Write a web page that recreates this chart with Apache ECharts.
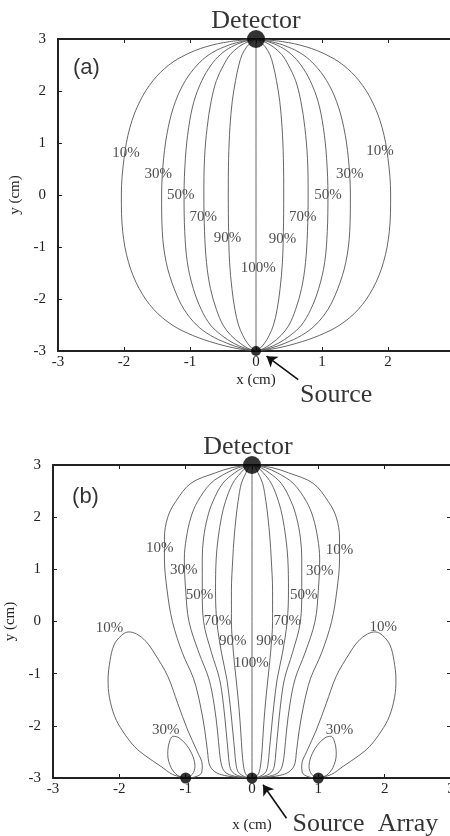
<!DOCTYPE html>
<html>
<head>
<meta charset="utf-8">
<script src="https://cdn.jsdelivr.net/npm/echarts@6/dist/echarts.min.js"></script>
<style>
  html, body { margin: 0; padding: 0; background: #fff; }
  #main { width: 450px; height: 836px; }
</style>
</head>
<body>
<div id="main"></div>
<script>
// panel (a): y samples shared by all contours, x = right half-width
const aY = [3, 2.95, 2.85, 2.7, 2.5, 2.2, 1.8, 1.3, 0.7, 0, -0.7, -1.3, -1.8, -2.2, -2.5, -2.7, -2.85, -2.95, -3]
const aX10 = [0, 0.40, 0.76, 1.06, 1.32, 1.56, 1.76, 1.91, 2.00, 2.04, 2.02, 1.93, 1.77, 1.55, 1.27, 0.96, 0.62, 0.30, 0]
const aX30 = [0, 0.23, 0.48, 0.71, 0.89, 1.07, 1.22, 1.33, 1.40, 1.43, 1.42, 1.36, 1.24, 1.09, 0.90, 0.69, 0.44, 0.21, 0]
const aX50 = [0, 0.18, 0.37, 0.54, 0.68, 0.82, 0.94, 1.02, 1.07, 1.09, 1.08, 1.04, 0.95, 0.83, 0.69, 0.52, 0.34, 0.16, 0]
const aX70 = [0, 0.12, 0.26, 0.39, 0.49, 0.60, 0.68, 0.74, 0.78, 0.79, 0.78, 0.75, 0.69, 0.60, 0.50, 0.38, 0.24, 0.12, 0]
const aX90 = [0, 0.06, 0.14, 0.21, 0.26, 0.31, 0.36, 0.395, 0.415, 0.42, 0.415, 0.40, 0.365, 0.32, 0.265, 0.20, 0.13, 0.06, 0]

// panel (b): main lobe
const bY = [3, 2.95, 2.85, 2.65, 2.3, 2.0, 1.6, 1.2, 0.6, 0, -0.6, -1.1, -1.6, -2.1, -2.5, -2.75, -2.88, -2.95, -2.99, -3]
const bX10 = [0, 0.30, 0.55, 0.92, 1.15, 1.27, 1.32, 1.32, 1.28, 1.20, 1.05, 0.88, 0.78, 0.71, 0.67, 0.64, 0.56, 0.42, 0.18, 0]
const bX30 = [0, 0.20, 0.38, 0.62, 0.82, 0.92, 0.99, 1.02, 1.00, 0.95, 0.80, 0.65, 0.57, 0.52, 0.49, 0.46, 0.41, 0.31, 0.13, 0]
const bX50 = [0, 0.13, 0.26, 0.44, 0.59, 0.67, 0.73, 0.75, 0.75, 0.73, 0.61, 0.49, 0.43, 0.39, 0.36, 0.34, 0.30, 0.22, 0.10, 0]
const bX70 = [0, 0.09, 0.17, 0.29, 0.40, 0.46, 0.51, 0.54, 0.55, 0.53, 0.46, 0.38, 0.33, 0.29, 0.26, 0.24, 0.21, 0.15, 0.07, 0]
const bX90 = [0, 0.05, 0.09, 0.16, 0.21, 0.24, 0.27, 0.29, 0.31, 0.31, 0.28, 0.24, 0.20, 0.17, 0.15, 0.13, 0.11, 0.08, 0.04, 0]

// panel (b): side lobes round the source at x = -1 (mirrored for x = +1)
const lobe10 = [[-1, -3], [-1.2, -2.93], [-1.37, -2.78], [-1.6, -2.58], [-1.77, -2.40], [-1.95, -2.1], [-2.07, -1.82],
  [-2.15, -1.45], [-2.17, -1.12], [-2.14, -0.75], [-2.08, -0.45], [-1.97, -0.27], [-1.86, -0.2], [-1.74, -0.24],
  [-1.60, -0.38], [-1.47, -0.61], [-1.27, -1.05], [-1.12, -1.57], [-0.97, -2.08], [-0.83, -2.48], [-0.75, -2.75],
  [-0.76, -2.9], [-0.86, -2.98], [-1, -3]]
const lobe30 = [[-1, -3], [-1.12, -2.95], [-1.22, -2.80], [-1.27, -2.55], [-1.25, -2.33], [-1.19, -2.2], [-1.10, -2.23],
  [-0.98, -2.38], [-0.89, -2.59], [-0.86, -2.78], [-0.9, -2.93], [-1, -3]]

// contour labels
const aLabelText = ['10%', '10%', '30%', '30%', '50%', '50%', '70%', '70%', '90%', '90%', '100%']
const aLabelX = [-1.97, 1.88, -1.48, 1.42, -1.14, 1.09, -0.80, 0.71, -0.43, 0.40, 0.035]
const aLabelY = [0.81, 0.84, 0.41, 0.41, 0, 0, -0.42, -0.42, -0.83, -0.85, -1.40]
const bLabelText = ['10%', '10%', '30%', '30%', '50%', '50%', '70%', '70%', '90%', '90%', '100%', '10%', '10%', '30%', '30%']
const bLabelX = [-1.39, 1.32, -1.03, 1.02, -0.79, 0.78, -0.52, 0.53, -0.29, 0.27, -0.01, -2.15, 1.98, -1.30, 1.32]
const bLabelY = [1.40, 1.37, 0.99, 0.96, 0.51, 0.51, 0.01, 0.01, -0.38, -0.38, -0.79, -0.13, -0.10, -2.09, -2.08]

const detector = [[0, 3]]
const aSources = [[0, -3]]
const bSources = [[-1, -3], [0, -3], [1, -3]]

const serif = 'Liberation Serif'
const curveColor = '#555'

let chart = echarts.init(document.getElementById('main'))

function curve(points, gi) {
  return {
    type: 'line', xAxisIndex: gi * 2, yAxisIndex: gi * 2,
    data: points, showSymbol: false, smooth: 0.35, silent: true,
    lineStyle: { color: curveColor, width: 0.9 }
  }
}

function halves(xs, ys, gi) {
  return [
    curve(ys.map((y, i) => [xs[i], y]), gi),
    curve(ys.map((y, i) => [-xs[i], y]), gi)
  ]
}

function pctLabels(txt, xs, ys, gi) {
  return {
    type: 'scatter', xAxisIndex: gi * 2, yAxisIndex: gi * 2, clip: false, silent: true,
    symbolSize: 1, itemStyle: { color: 'rgba(0,0,0,0)' },
    data: txt.map((t, i) => ({ value: [xs[i], ys[i]], name: t })),
    label: { show: true, position: 'inside', formatter: '{b}', fontFamily: serif, fontSize: 15, color: '#222' }
  }
}

function dots(pts, size, gi) {
  return {
    type: 'scatter', xAxisIndex: gi * 2, yAxisIndex: gi * 2, clip: false, silent: true, z: 10,
    symbolSize: size, itemStyle: { color: '#000' }, data: pts
  }
}

function annot(items, gi) {
  return {
    type: 'scatter', xAxisIndex: gi * 2, yAxisIndex: gi * 2, clip: false, silent: true, z: 6,
    symbolSize: 1, itemStyle: { color: 'rgba(0,0,0,0)' },
    data: items.map(a => ({
      value: a.at, name: a.text,
      label: { show: true, position: 'inside', formatter: '{b}', fontFamily: a.font, fontSize: a.size, color: '#000', align: a.align || 'center' }
    }))
  }
}

function arrow(from, to, gi) {
  return {
    type: 'lines', coordinateSystem: 'cartesian2d', xAxisIndex: gi * 2, yAxisIndex: gi * 2,
    clip: false, silent: true, z: 6,
    symbol: ['none', 'arrow'], symbolSize: 10,
    lineStyle: { color: '#111', width: 1.6, opacity: 1 },
    data: [{ coords: [from, to] }]
  }
}

function xAxes(gi, gap) {
  let common = { gridIndex: gi, type: 'value', min: -3, max: 3, interval: 1, splitLine: { show: false },
    axisLine: { onZero: false, lineStyle: { color: '#222', width: 2 } },
    axisTick: { inside: true, length: 4, lineStyle: { color: '#222' } } }
  return [
    Object.assign({}, common, { position: 'bottom', name: 'x (cm)', nameLocation: 'middle', nameGap: gap,
      nameTextStyle: { fontFamily: serif, fontSize: 15, color: '#222' },
      axisLabel: { fontFamily: serif, fontSize: 15, color: '#222', margin: 4 } }),
    Object.assign({}, common, { position: 'top', axisLabel: { show: false } })
  ]
}

function yAxes(gi, gap) {
  let common = { gridIndex: gi, type: 'value', min: -3, max: 3, interval: 1, splitLine: { show: false },
    axisLine: { onZero: false, lineStyle: { color: '#222', width: 2 } },
    axisTick: { inside: true, length: 4, lineStyle: { color: '#222' } } }
  return [
    Object.assign({}, common, { position: 'left', name: 'y (cm)', nameLocation: 'middle', nameGap: gap,
      nameTextStyle: { fontFamily: serif, fontSize: 15, color: '#222' },
      axisLabel: { fontFamily: serif, fontSize: 15, color: '#222', margin: 12 } }),
    Object.assign({}, common, { position: 'right', axisLabel: { show: false } })
  ]
}

let series = []
// panel a
;[aX10, aX30, aX50, aX70, aX90].forEach(xs => { series.push(...halves(xs, aY, 0)) })
series.push(curve([[0, 3], [0, -3]], 0))
series.push(pctLabels(aLabelText, aLabelX, aLabelY, 0))
series.push(dots(detector, 18, 0), dots(aSources, 10, 0))
series.push(annot([
  { text: 'Detector', at: [0, 3.35], font: serif, size: 26 },
  { text: '(a)', at: [-2.57, 2.44], font: 'Liberation Sans', size: 22 },
  { text: 'Source', at: [0.667, -3.84], font: serif, size: 26, align: 'left' }
], 0))
series.push(arrow([0.64, -3.55], [0.16, -3.10], 0))

// panel b
;[bX10, bX30, bX50, bX70, bX90].forEach(xs => { series.push(...halves(xs, bY, 1)) })
series.push(curve([[0, 3], [0, -3]], 1))
series.push(curve(lobe10, 1), curve(lobe10.map(p => [-p[0], p[1]]), 1))
series.push(curve(lobe30, 1), curve(lobe30.map(p => [-p[0], p[1]]), 1))
series.push(pctLabels(bLabelText, bLabelX, bLabelY, 1))
series.push(dots(detector, 18, 1), dots(bSources, 11, 1))
series.push(annot([
  { text: 'Detector', at: [-0.06, 3.35], font: serif, size: 26 },
  { text: '(b)', at: [-2.51, 2.39], font: 'Liberation Sans', size: 22 },
  { text: 'Source  Array', at: [0.61, -3.89], font: serif, size: 26, align: 'left' }
], 1))
series.push(arrow([0.52, -3.77], [0.166, -3.13], 1))

let option = {
  animation: false,
  backgroundColor: '#fff',
  grid: [
    { left: 58, top: 39, width: 396, height: 312, outerBoundsMode: 'none', containLabel: false },
    { left: 53, top: 465, width: 398, height: 313, outerBoundsMode: 'none', containLabel: false }
  ],
  xAxis: [...xAxes(0, 22), ...xAxes(1, 40)],
  yAxis: [...yAxes(0, 21), ...yAxes(1, 18)],
  series: series
}
chart.setOption(option)
</script>
</body>
</html>
